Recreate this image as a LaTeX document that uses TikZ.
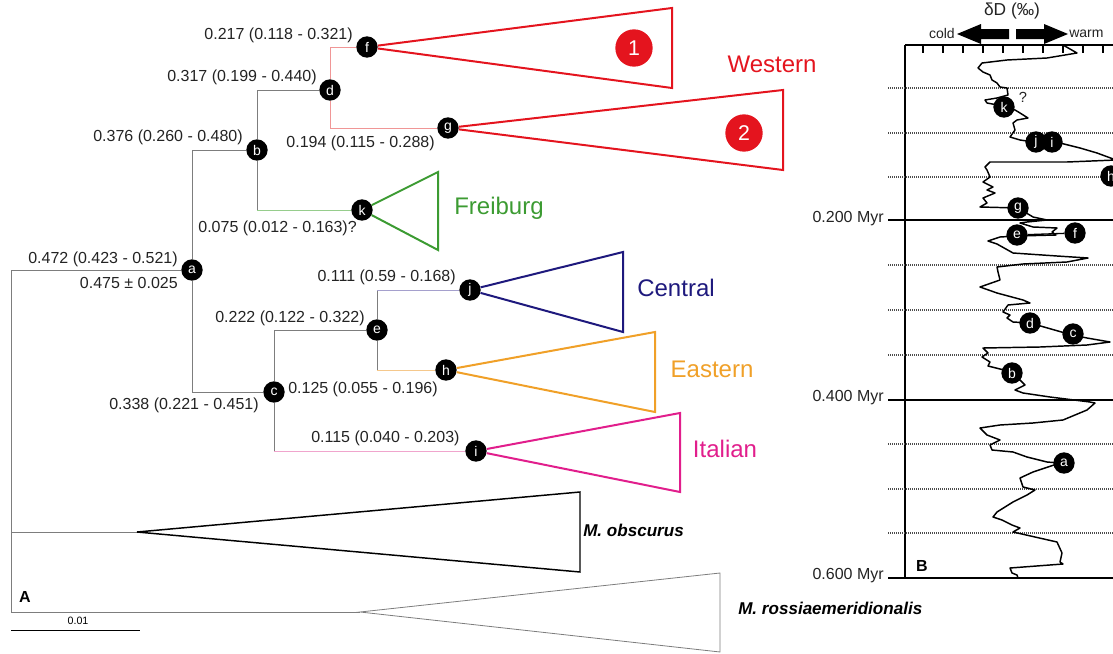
\documentclass[tikz,border=0pt]{standalone}
\usepackage{fontspec}
\setmainfont{Liberation Sans}
\definecolor{western}{RGB}{228,20,30}
\definecolor{westernlight}{RGB}{240,150,150}
\definecolor{freiburg}{RGB}{60,155,50}
\definecolor{freiburglight}{RGB}{150,205,140}
\definecolor{central}{RGB}{30,25,125}
\definecolor{centrallight}{RGB}{165,160,205}
\definecolor{eastern}{RGB}{240,160,40}
\definecolor{easternlight}{RGB}{245,200,140}
\definecolor{italian}{RGB}{225,30,140}
\definecolor{italianlight}{RGB}{240,165,205}
\definecolor{branch}{RGB}{125,125,125}
\definecolor{txt}{RGB}{35,35,35}
\begin{document}
\begin{tikzpicture}[x=0.75pt,y=-0.75pt,
  tip/.style={circle, fill=black, minimum size=16pt, inner sep=0pt, text=white, font=\fontsize{10.5}{10.5}\selectfont},
  age/.style={text=txt, inner sep=0pt, font=\fontsize{12}{12}\selectfont},
  group/.style={inner sep=0pt, font=\fontsize{18}{18}\selectfont},
  species/.style={inner sep=0pt, anchor=west, font=\fontsize{12.8}{12.8}\selectfont\bfseries\itshape},
  clade/.style={line width=1.5pt, line join=miter},
  twig/.style={line width=0.7pt}]
\useasboundingbox (0,0) rectangle (1113,653);
\clip (0,0) rectangle (1113,653);

% tree A
\node[tip] (a) at (192,270){a};
\node[tip] (b) at (257,150){b};
\node[tip] (c) at (274,392){c};
\node[tip] (d) at (330,90){d};
\node[tip] (e) at (377,330){e};
\node[tip] (f) at (367,47){f};
\node[tip] (g) at (448,128){g};
\node[tip] (h) at (446,370){h};
\node[tip] (i) at (476,451){i};
\node[tip] (j) at (470,290){j};
\node[tip] (k) at (362,210){k};
\coordinate (root) at (11,270);
\coordinate (rootobs) at (11,532);
\coordinate (rootros) at (11,612);
\coordinate (obs) at (137,532);
\coordinate (ros) at (360,612);
\coordinate (bk) at (b |- k);
\coordinate (ci) at (c |- i);
\coordinate (ej) at (e |- j);
\coordinate (eh) at (e |- h);

\draw[twig, branch](a) -- (root) -- (rootros) -- (ros);
\draw[twig, branch](rootobs) -- (obs);
\draw[twig, branch](a) |- (b);
\draw[twig, branch](a) |- (c);
\draw[twig, branch](b) |- (d);
\draw[twig, branch](b) -- (bk);
\draw[twig, freiburglight](bk) -- (k);
\draw[twig, westernlight](d) |- (f);
\draw[twig, westernlight](d) |- (g);
\draw[twig, branch](c) |- (e);
\draw[twig, branch](c) -- (ci);
\draw[twig, italianlight](ci) -- (i);
\draw[twig, branch](e) -- (ej);
\draw[twig, branch](e) -- (eh);
\draw[twig, centrallight](ej) -- (j);
\draw[twig, easternlight](eh) -- (h);

% clades
\draw[clade, western](f) -- (672,8) -- (672,88) -- (f);
\draw[clade, western](g) -- (783,90) -- (783,170) -- (g);
\draw[clade, freiburg](k) -- (438,172) -- (438,250) -- (k);
\draw[clade, central](j) -- (623,252) -- (623,332) -- (j);
\draw[clade, eastern](h) -- (655,332) -- (655,412) -- (h);
\draw[clade, italian](i) -- (680,413) -- (680,492) -- (i);
\draw[line width=1.1pt, line join=miter](obs) -- (580,492) -- (580,572) -- cycle;
\draw[line width=0.6pt, branch](ros) -- (720,573) -- (720,652) -- cycle;

\node[circle, fill=western, minimum size=28pt, inner sep=0pt, text=white, font=\fontsize{16}{16}\selectfont] (w1) at (634,48){1};
\node[circle, fill=western, minimum size=28pt, inner sep=0pt, text=white, font=\fontsize{16}{16}\selectfont] (w2) at (744,133){2};

\node[group, text=western] (lwestern) at (772,64){Western};
\node[group, text=freiburg] (lfreiburg) at (499,208){Freiburg};
\node[group, text=central] (lcentral) at (676,288){Central};
\node[group, text=eastern] (leastern) at (712,369){Eastern};
\node[group, text=italian] (litalian) at (725,449){Italian};
\node[species] (lobs) at (583,530){M. obscurus};
\node[species] (lros) at (738,608){M. rossiaemeridionalis};

% node ages
\node[age, anchor=east] (tf) at (353,35){0.217 (0.118 - 0.321)};
\node[age, anchor=east] (td) at (317,77){0.317 (0.199 - 0.440)};
\node[age, anchor=east] (tg) at (435,143){0.194 (0.115 - 0.288)};
\node[age, anchor=east] (tb) at (243,137){0.376 (0.260 - 0.480)};
\node[age, anchor=east] (tk) at (357,228){0.075 (0.012 - 0.163)?};
\node[age, anchor=east] (ta) at (178,259){0.472 (0.423 - 0.521)};
\node[age, anchor=east] (ta2) at (178,283){0.475 ± 0.025};
\node[age, anchor=east] (tj) at (456,277){0.111 (0.59 - 0.168)};
\node[age, anchor=east] (te) at (365,318){0.222 (0.122 - 0.322)};
\node[age, anchor=west] (th) at (288,389){0.125 (0.055 - 0.196)};
\node[age, anchor=east] (tc) at (259,405){0.338 (0.221 - 0.451)};
\node[age, anchor=west] (ti) at (311,438){0.115 (0.040 - 0.203)};

\node[inner sep=0pt, font=\fontsize{12}{12}\selectfont\bfseries] (pa) at (25,597){A};
\draw[twig](11,630) -- (140,630);
\node[inner sep=0pt, font=\fontsize{8}{8}\selectfont] (bar) at (78,621){0.01};

% panel B
\draw[line width=1pt](905,45) -- (905,578);
\draw[line width=1pt](905,45) -- (1113,45);
\draw[line width=1pt](888,220) -- (1113,220);
\draw[line width=1pt](888,400) -- (1113,400);
\draw[line width=1pt](888,578) -- (1113,578);
\foreach \y in {88,133,177,265,310,355,444,489,533}
  \draw[line width=1pt, black!70, dash pattern=on 0.75pt off 0.75pt](888,\y) -- (1113,\y);
\draw[line width=1.2pt](923,45) -- +(0,8) (943,45) -- +(0,8) (963,45) -- +(0,8)
  (983,45) -- +(0,8) (1003,45) -- +(0,8) (1023,45) -- +(0,8) (1043,45) -- +(0,8)
  (1063,45) -- +(0,8) (1083,45) -- +(0,8) (1103,45) -- +(0,8);
\node[age, anchor=east] (m2) at (884,219){0.200 Myr};
\node[age, anchor=east] (m4) at (884,398){0.400 Myr};
\node[age, anchor=east] (m6) at (884,576){0.600 Myr};
\node[inner sep=0pt, font=\fontsize{12}{12}\selectfont\bfseries] (pb) at (922,566){B};

\fill(957,34) -- (981,24) -- (981,29) -- (1009,29) -- (1009,39) -- (981,39) -- (981,44) -- cycle;
\fill(1068,34) -- (1044,24) -- (1044,29) -- (1016,29) -- (1016,39) -- (1044,39) -- (1044,44) -- cycle;
\node[age, font=\fontsize{10.5}{10.5}\selectfont, anchor=east] (cold) at (955,33){cold};
\node[age, font=\fontsize{10.5}{10.5}\selectfont, anchor=west] (warm) at (1069,34){warm};
\node[age, font=\fontsize{13}{13}\selectfont] (dd) at (1012,11){δD (‰)};

\draw[line width=1.1pt, line join=round] plot coordinates {
(1063,45) (1077,53) (1047,58) (1007,60) (982,63) (978,68) (983,72) (990,75) (992,80) (997,83)
(1000,87) (1007,88) (1008,95) (997,98) (985,100) (987,103) (1003,106) (1015,110) (1020,113)
(1028,118) (1017,120) (1013,123) (1015,130) (1010,137) (1020,140) (1040,143) (1060,143)
(1080,148) (1097,153) (1116,160) (1067,162) (1013,162) (990,162) (985,167) (987,170) (990,177)
(983,182) (993,187) (987,190) (995,193) (983,198) (987,203) (980,207) (1018,208) (1033,217)
(1047,220) (1027,222) (1020,223) (1033,227) (1057,228) (1052,232) (1056,235) (1017,236)
(1000,237) (988,241) (997,244) (1013,253) (1057,256) (1088,258) (1067,262) (1023,264)
(997,267) (998,272) (1000,280) (980,287) (997,293) (1023,300) (1030,303) (1008,305)
(1003,312) (1010,315) (1007,318) (1013,322) (1030,323) (1072,335) (1087,338) (1110,342)
(1087,345) (1040,347) (983,348) (988,353) (982,357) (990,362) (988,366) (1012,372)
(1025,385) (1015,390) (1023,393) (1050,397) (1090,402) (1095,403) (1087,410) (1063,420)
(1033,423) (1000,425) (980,428) (987,435) (1000,440) (990,445) (992,450) (1013,452)
(1027,457) (1047,462) (1060,463) (1033,472) (1020,478) (1023,487) (1035,490) (1027,495)
(1013,502) (997,512) (993,517) (1002,520) (1012,525) (1020,528) (1013,532) (1035,537)
(1057,542) (1062,553) (1060,562) (1063,564) (1010,568) (1012,573) (1017,575) (1018,578)};
\node[tip] (bk1) at (1004,107){k};
\node[age, font=\fontsize{11}{11}\selectfont] (bq) at (1023,97){?};
\node[tip] (bj) at (1036,142){j};
\node[tip] (bi) at (1052,142){i};
\node[tip] (bh) at (1111,176){h};
\node[tip] (bg) at (1018,208){g};
\node[tip] (be) at (1017,235){e};
\node[tip] (bf) at (1075,233){f};
\draw[line width=1pt](be) -- (bf);
\node[tip] (bd) at (1030,323){d};
\node[tip] (bc) at (1073,334){c};
\node[tip] (bb) at (1012,373){b};
\node[tip] (ba) at (1064,463){a};
\end{tikzpicture}
\end{document}
